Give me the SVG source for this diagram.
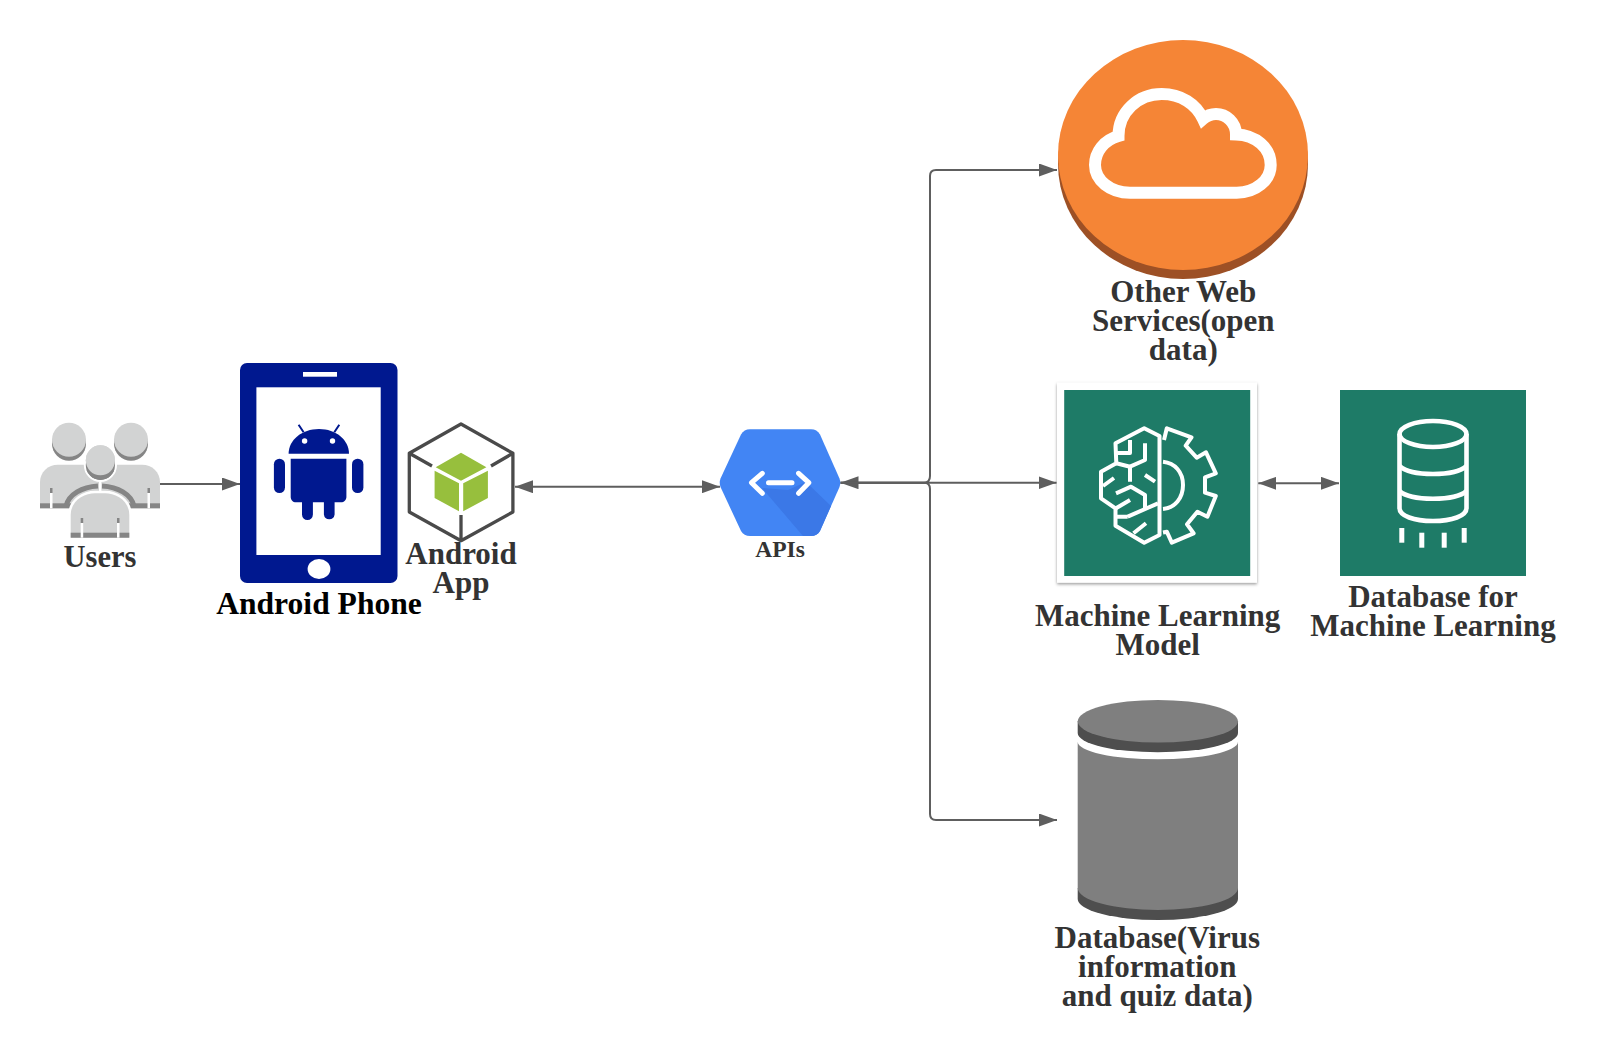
<svg xmlns="http://www.w3.org/2000/svg" width="1617" height="1041" viewBox="0 0 1617 1041">
<defs>
<marker id="arr" markerUnits="userSpaceOnUse" markerWidth="18" markerHeight="13" refX="18" refY="6.5" orient="auto-start-reverse"><path d="M0 0L18 6.5L0 13Z" fill="#5e5e5e"/></marker>
<filter id="sh" x="-5%" y="-5%" width="110%" height="110%"><feDropShadow dx="0" dy="1.5" stdDeviation="1.8" flood-color="#000" flood-opacity=".4"/></filter>
</defs>
<style>
text{font-family:"Liberation Serif",serif;font-weight:700;font-size:31px;fill:#333;text-anchor:middle}
.c{fill:none;stroke:#5e5e5e;stroke-width:2}
.ln{fill:none;stroke:#fff;stroke-width:4;stroke-linejoin:round}
.ug{fill:#d2d3d3}.ud{fill:#858585}.uw{fill:#fff}
.ph{fill:#00188f}
.tl{fill:#1e7b67}
.cg{fill:#7f7f7f}.cd{fill:#4e4e4e}
</style>
<rect width="1617" height="1041" fill="#fff"/>
<g id="connectors">
<path class="c" d="M160 484H240" marker-end="url(#arr)"/>
<path class="c" d="M515 486.7H720" marker-start="url(#arr)" marker-end="url(#arr)"/>
<path class="c" d="M840.5 482.7H924C928 482.7 930 480 930 476V176C930 172 932 170 936 170H1057" marker-start="url(#arr)" marker-end="url(#arr)"/>
<path class="c" d="M840.5 482.7H924C928 482.7 930 485 930 489V814C930 818 932 820 936 820H1057" marker-end="url(#arr)"/>
<path class="c" d="M840.5 482.7H1056.5" marker-end="url(#arr)"/>
<path class="c" d="M1258.3 483.3H1339" marker-start="url(#arr)" marker-end="url(#arr)"/>
</g>
<g id="users">
<ellipse class="ud" cx="69" cy="443.7" rx="17" ry="17"/><ellipse class="ug" cx="69" cy="439.7" rx="17" ry="17"/>
<ellipse class="ud" cx="131" cy="443.7" rx="17" ry="17"/><ellipse class="ug" cx="131" cy="439.7" rx="17" ry="17"/>
<path class="ug" d="M40 508.3V482C40 472 48 464.7 58 464.7H142C152 464.7 160 472 160 482V508.3Z"/>
<rect class="ud" x="40" y="503.3" width="120" height="5"/>
<rect class="ud" x="50" y="488" width="2.5" height="5"/><rect class="uw" x="50" y="493" width="2.5" height="15.3"/>
<rect class="ud" x="147.5" y="488" width="2.5" height="5"/><rect class="uw" x="147.5" y="493" width="2.5" height="15.3"/>
<path d="M66 506C69 494 82 487 98 486M134 506C131 494 118 487 102 486" fill="none" stroke="#858585" stroke-width="5"/>
<rect class="uw" x="99" y="478" width="2.4" height="16"/>
<ellipse class="ud" cx="100.4" cy="465" rx="14.6" ry="15" stroke="#fff" stroke-width="4" paint-order="stroke"/>
<ellipse class="ug" cx="100.4" cy="460.3" rx="14.6" ry="15" stroke="#fff" stroke-width="4" paint-order="stroke"/>
<ellipse class="ud" cx="100.4" cy="465" rx="14.6" ry="15"/><ellipse class="ug" cx="100.4" cy="460.3" rx="14.6" ry="15"/>
<path class="ug" d="M70.7 537.7V515C70.7 500 85 493.3 95 493.3H105C115 493.3 129.3 500 129.3 515V537.7Z" stroke="#fff" stroke-width="5" paint-order="stroke"/>
<rect class="ud" x="70.7" y="532.7" width="58.6" height="5"/>
<rect class="ud" x="80.7" y="518" width="2.5" height="5"/><rect class="uw" x="80.7" y="523" width="2.5" height="14.7"/>
<rect class="ud" x="117" y="518" width="2.5" height="5"/><rect class="uw" x="117" y="523" width="2.5" height="14.7"/>
<text x="100" y="567" style="font-size:30.5px">Users</text>
</g>
<g id="phone">
<rect class="ph" x="240" y="363" width="157.5" height="220" rx="7"/>
<rect class="uw" x="256.4" y="387.3" width="124.3" height="167.7"/>
<rect class="uw" x="303" y="372" width="34" height="4.7"/>
<ellipse class="uw" cx="319" cy="569" rx="11.4" ry="10"/>
<path class="ph" d="M288.6 453.7C288.6 440 302 429 319 429C336 429 349 440 349 453.7Z"/>
<path d="M298.6 424.7L303.6 432.3M339.3 424.7L334.3 432.3" stroke="#00188f" stroke-width="2" fill="none"/>
<circle class="uw" cx="304.6" cy="441" r="2.7"/><circle class="uw" cx="332.5" cy="441" r="2.7"/>
<path class="ph" d="M290.7 458.7H346.4V497C346.4 500 344 502.3 341 502.3H334.6V514.6A5.4 5.4 0 0 1 323.9 514.6V502.3H312.9V514.6A5.4 5.4 0 0 1 302 514.6V502.3H296C293 502.3 290.7 500 290.7 497Z"/>
<rect class="ph" x="273.9" y="458.7" width="11.1" height="34.3" rx="5.5"/>
<rect class="ph" x="352" y="458.7" width="11.4" height="34.3" rx="5.5"/>
<text x="319" y="613.5" style="fill:#000;font-size:31.6px">Android Phone</text>
</g>
<g id="android-app">
<path d="M461 424L512.9 453.3V512L461 540.7L409.3 512V453.3Z M409.3 453.3L432 466M512.9 453.3L491 466M461 515V540.7" fill="none" stroke="#4a4a4a" stroke-width="3.3" stroke-linejoin="round"/>
<path d="M461 452.7L486.4 467.3L461 480.7L435.7 467.3Z M434.6 470.7L459 483.3V511.3L434.6 498Z M463.2 483.3L487.9 470.7V498L463.2 511.3Z" fill="#97bf3d"/>
<text x="461" y="563.5">Android</text><text x="461" y="592.5">App</text>
</g>
<g id="apis">
<path d="M750 429.3H811C815 429.3 818 431 820 434.5L839.5 478.5Q841 482.7 839.5 487L820 531C818 534.5 815 536 811 536H750C746 536 743 534.5 741 531L720.5 487Q719 482.7 720.5 478.5L741 434.5C743 431 746 429.3 750 429.3Z" fill="#4285f4"/>
<path d="M762 488L803 536H811C815 536 818 534.5 820 531L831 506L806 482L788 490Z" fill="#3b78e7"/>
<path d="M762.3 473.3L751.5 482.7L762.3 493.3M798.6 473.3L808.8 482.7L798.6 493.3M768.5 482.7H792" fill="none" stroke="#fff" stroke-width="5" stroke-linecap="round" stroke-linejoin="round"/>
<text x="780" y="557" style="font-size:23.5px">APIs</text>
</g>
<g id="other-web-services">
<ellipse cx="1183" cy="164" rx="125" ry="115" fill="#9d5025"/>
<ellipse cx="1183" cy="155" rx="125" ry="115" fill="#f58536"/>
<path d="M1130 192.7H1236.7C1256 192.7 1270.7 180 1270.7 165C1270.7 148 1256 135 1236 134.5C1236 122 1226 114 1216 114C1211 114 1207 115.5 1203 119C1196 104 1181 94 1161.7 94C1138 94 1118.5 112 1118.5 136C1104 140 1095 152 1095 165C1095 180 1110 192.7 1130 192.7Z" fill="none" stroke="#fff" stroke-width="12"/>
<text x="1183.3" y="302">Other Web</text><text x="1183.3" y="331">Services(open</text><text x="1183.3" y="359.5">data)</text>
</g>
<g id="ml-model">
<rect x="1057" y="382.7" width="200" height="200" fill="#fff" filter="url(#sh)"/>
<rect class="tl" x="1064.2" y="390" width="186" height="186"/>
<path class="ln" d="M1144.2 428.3L1159.5 436V535L1144.2 542.7L1115.5 525.7V508.3L1101 498.3V471.7L1116.3 463.3L1115.5 443.3Z"/>
<path class="ln" d="M1115.5 453H1130V440M1145 443.3V460L1130 466.7V481.7M1116.3 463.3L1130 466.7M1145 475L1155 481.7M1103 486L1114 478M1116 493.3L1131 486.7L1145 495V508.3M1116 508.3L1130 500M1127.7 516.7L1158 503.3M1115.5 516.7H1127.7M1133.5 533.3L1146 523.3"/>
<path class="ln" d="M1163 461.7C1175 463 1183 472 1183 485C1183 498 1175 508 1163 509"/>
<path class="ln" d="M1164 440L1166.8 428.3L1191.5 437.3L1185.7 445.7L1196.7 457.7L1206 452.3L1215.8 473.3L1205 477.3V492.7L1215.8 496L1207.4 516.7L1197.4 511.7L1187 524.3L1193.6 533.3L1171.8 542.7L1166.8 531.7L1163 532.5"/>
<text x="1157.6" y="626">Machine Learning</text><text x="1157.6" y="654.5">Model</text>
</g>
<g id="ml-database">
<rect class="tl" x="1340" y="390" width="186" height="186"/>
<g fill="none" stroke="#fff" stroke-width="4.6">
<ellipse cx="1433" cy="434" rx="33.5" ry="13"/>
<path d="M1399.5 434V508C1399.5 516 1414 521 1433 521C1452 521 1466.5 516 1466.5 508V434"/>
<path d="M1399.5 466C1405 471 1418 474 1433 474C1448 474 1461 471 1466.5 466M1399.5 491C1405 496 1418 498.7 1433 498.7C1448 498.7 1461 496 1466.5 491"/>
</g>
<g class="uw"><rect x="1399.3" y="528" width="5" height="14.7"/><rect x="1419.3" y="532.7" width="5" height="15"/><rect x="1441.7" y="532.7" width="5" height="15"/><rect x="1461.7" y="528" width="5" height="14.7"/></g>
<text x="1433" y="606.5">Database for</text><text x="1433" y="635.5">Machine Learning</text>
</g>
<g id="database">
<path class="cd" d="M1077.7 721.3V733A80.15 19.3 0 0 0 1238 733V721.3Z"/>
<ellipse class="cg" cx="1157.85" cy="721.3" rx="80.15" ry="21.3"/>
<path class="cd" d="M1077.7 888V899A80.15 21 0 0 0 1238 899V888Z"/>
<path class="cg" d="M1077.7 741.7A80.15 17.6 0 0 0 1238 741.7V888A80.15 22 0 0 1 1077.7 888Z"/>
<text x="1157.3" y="948">Database(Virus</text><text x="1157.3" y="977">information</text><text x="1157.3" y="1006">and quiz data)</text>
</g>
</svg>
